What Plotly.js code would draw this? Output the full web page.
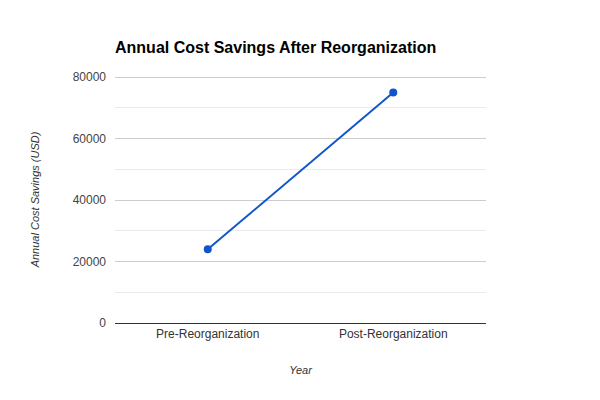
<!DOCTYPE html>
<html>
<head>
<meta charset="utf-8">
<script src="https://cdn.plot.ly/plotly-3.0.1.min.js"></script>
<style>
  html, body { margin: 0; padding: 0; background: #fff; }
  #chart { width: 600px; height: 400px; }
</style>
</head>
<body>
<div id="chart"></div>
<script>
// 데이터
var phases = ['Pre-Reorganization', 'Post-Reorganization'];
var savings = [24000, 75000];
var yTicks = [0, 20000, 40000, 60000, 80000];

var trace = {
    x: phases,
    y: savings,
    type: 'scatter',
    mode: 'lines+markers',
    line: { color: '#1155cc', width: 2 },
    marker: { color: '#1155cc', size: 8 },
    hoverinfo: 'x+y'
};

var layout = {
    width: 600,
    height: 400,
    margin: { l: 115, r: 114, t: 76, b: 77 },
    paper_bgcolor: '#fff',
    plot_bgcolor: '#fff',
    font: { family: 'Liberation Sans, Arial, sans-serif', size: 12, color: '#444' },
    title: {
        text: '<b>Annual Cost Savings After Reorganization</b>',
        font: { size: 16, color: '#000' },
        x: 115 / 600, xanchor: 'left',
        y: 1 - 47 / 400, yanchor: 'middle'
    },
    showlegend: false,
    xaxis: {
        type: 'category',
        range: [-0.5, 1.5],
        showgrid: false,
        zeroline: false,
        showline: true,
        linecolor: '#333',
        linewidth: 1,
        ticks: '',
        ticklen: 0,
        tickfont: { size: 12, color: '#333' },
        title: {
            text: '<i>Year</i>',
            font: { size: 11, color: '#333' },
            standoff: 25
        }
    },
    yaxis: {
        // 위쪽 80000 격자선이 보이도록 범위를 살짝 넓힘
        range: [0, 80400],
        tickvals: yTicks,
        ticktext: yTicks.map(String),
        showgrid: true,
        gridcolor: '#cccccc',
        gridwidth: 1,
        minor: { dtick: 10000, showgrid: true, gridcolor: '#ebebeb', gridwidth: 1 },
        zeroline: true,
        zerolinecolor: '#333',
        zerolinewidth: 1,
        ticks: '',
        ticklabelstandoff: 8,
        tickfont: { size: 12, color: '#444' },
        title: {
            text: '<i>Annual Cost Savings (USD)</i>',
            font: { size: 11, color: '#333' },
            standoff: 30
        }
    }
};

var config = { displayModeBar: false, staticPlot: true };

Plotly.newPlot('chart', [trace], layout, config);
</script>
</body>
</html>
